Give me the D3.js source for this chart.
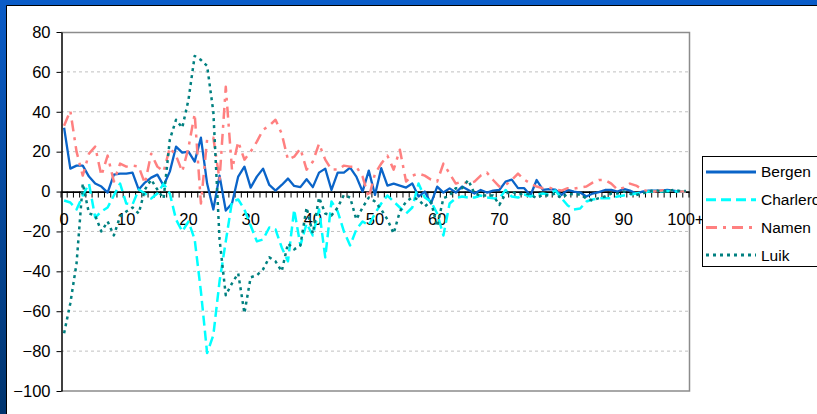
<!DOCTYPE html>
<html>
<head>
<meta charset="utf-8">
<title>Bergen Charleroi Namen Luik</title>
<script src="https://d3js.org/d3.v7.min.js"></script>
<style>
  body { margin: 0; overflow: hidden; background: #fff; }
  svg { display: block; font-family: "Liberation Sans", Arial, sans-serif; }
  .axis text { font-size: 16.5px; fill: #000; }
</style>
</head>
<body>
<div id="chart"></div>
<script>
// categories 0 .. 99 and "100+"
var categories = d3.range(100).map(String).concat(["100+"]);
var xTickLabels = ["0", "10", "20", "30", "40", "50", "60", "70", "80", "90", "100+"];
var yTicks = [-100, -80, -60, -40, -20, 0, 20, 40, 60, 80];

var bergen = [32, 11.5, 13, 13, 7.5, 4, 2.5, -0.5, 8.5, 9, 9, 9.5, 1, 4.5, 7, 8.5, 3, 10, 22.5, 19.5,
  20, 15, 27, 4, -9, 8, -9.5, -6, 7.5, 12.5, 2, 7.5, 11.5, 3.3, 0.5, 3.3, 6.5, 2.8, 2.2, 6.2,
  2.2, 9.5, 11.5, 0.8, 9.5, 9.5, 12, 7.5, 0, 10.5, -1.7, 11.7, 3, 4, 3, 2, 4, -2.5, 0, -6,
  2.5, -0.5, 1.6, -0.5, 2.5, 0.8, -1, 0.8, -0.5, 0.5, 0.8, 5, 6, 1.7, 1.7, -2, 5.8, 0.8, 1.2, 1,
  -1.7, 0.8, 0, -0.5, -2.5, -1, -0.3, 0.8, 0.8, 0, 1.3, 0.5, -1, 0, 0.5, 0.5, 0.5, 0.8, 0.5, 0, 0];

var charleroi = [-4.5, -5.5, -9, -2, 4, -13, -10, -8, -2, 4, -6, -6.5, 1, -1, -3.5, -1, 4, -1, -14, -20,
  -15, -24, -50, -81, -72, -45, -25, -5, -4, -9, -17, -25, -24, -18, -19, -28, -35, -9, -27, -16,
  -22, -9, -33, -5, -10, -20, -27, -19, -15, -17, -11, -6, -2, -5, -8, -11, -8, 4, -3, -5,
  -11, -22, -6, -3.3, -2.5, -3, -3, -2, -3, -3.3, -3.5, 0.8, -2.5, -3, -1.5, -2.5, -1.5, -1, -1.5, 0.5,
  -3.3, -7, -9, -8.5, -5, -4, -3.3, -3.3, -3.3, -2.5, -2, -1.5, -1, -0.5, 0, 0, 0, 0.3, 0, 0, 0];

var namen = [33, 40.5, 20, 8, 19, 22.5, 8, 18, 5, 14, 12.5, 13, 12.5, 4, 19, 12.5, 10, 22, 18, 10,
  22, 39, -6, 26, 27, 6, 52.5, 11, 25, 16, 20, 25, 31, 33, 36, 29, 16, 17.5, 21.5, 11,
  15, 24, 16, 11, 11, 13, 12.5, 12.5, 7.5, -3, 9, 14, 18, 11, 21, 5, 8, 9, 8, 6,
  5, 14, 9, 4, 5, 4, 5, 8, 9.5, 5.8, 2.5, 3.3, 5.8, 9, 6, 4, 2.5, 1.7, 2, 1,
  0.5, 1.7, 1.5, 2, 2.5, 4.5, 5.8, 5.8, 4, 1, 2, 4, 3, 1, 0, 0, 0.5, 0.8, 0.5, 0, 0];

var luik = [-71, -56, -36, 4, -11, -12, -20, -15, -22, -12.5, -10, -8, -11, 1, 6, 1, -3.5, 26, 36, 32,
  46, 68, 66, 63, 40, -24, -52, -46, -41, -61, -43, -42, -39, -33, -35, -40, -26, -29, -27, -8,
  -21, -3, -11, -12, -8, -1.7, -3, -14, -8, -3, -5, -9, -14, -21, -10, -5, -3, -4, -7.5, -5,
  -17.5, -3.3, -2, 1.7, 1.7, 5.8, -1, -2, -2, -2, -6.7, -1, 0, -1.5, -1, -1.5, -3.3, -1.5, -2, -1,
  -3.3, -1, -1.5, -1.5, -3.5, -4.5, -3.3, -2.5, -1, -1, 0, -1, -1.7, -1, 0, 0.8, 0, 0.3, 0.8, 0.3, 0.3];

var seriesNames = ["Bergen", "Charleroi", "Namen", "Luik"];
var seriesData = [bergen, charleroi, namen, luik];
var seriesColors = ["#0a64c8", "#00ffff", "#ff8080", "#008080"];
var seriesDash = [null, "10,5", "11,6,3,6", "3,4"];
var seriesWidth = [2.3, 2.5, 2.5, 2.5];

var W = 817, H = 414;

var svg = d3.select("#chart").append("svg")
  .attr("width", W)
  .attr("height", H);

// blue slide frame
var defs = svg.append("defs");
var grad = defs.append("linearGradient").attr("id", "frameGrad")
  .attr("x1", 0).attr("y1", 0).attr("x2", 0).attr("y2", 1);
grad.append("stop").attr("offset", "0%").attr("stop-color", "#0a5cc8");
grad.append("stop").attr("offset", "100%").attr("stop-color", "#00346e");

svg.append("rect").attr("width", W).attr("height", H).attr("fill", "url(#frameGrad)");
svg.append("rect").attr("x", 0).attr("y", 0).attr("width", W).attr("height", 5).attr("fill", "#0a5cc8");
svg.append("rect").attr("x", 7).attr("y", 6).attr("width", W - 7).attr("height", H - 6).attr("fill", "#fff");
svg.append("path").attr("d", "M6.5," + H + "V5.5H" + W).attr("fill", "none").attr("stroke", "#000");

// plot area
var plotLeft = 61, plotRight = 689, plotTop = 32, plotBottom = 391;

var x = d3.scaleBand()
  .domain(categories)
  .range([plotLeft, plotRight]);

var y = d3.scaleLinear()
  .domain([-100, 80])
  .range([plotBottom, plotTop]);

// gridlines
svg.append("g")
  .selectAll("line")
  .data(yTicks.filter(function (d) { return d !== 0 && d !== -100 && d !== 80; }))
  .enter().append("line")
  .attr("x1", plotLeft).attr("x2", plotRight)
  .attr("y1", function (d) { return y(d); })
  .attr("y2", function (d) { return y(d); })
  .attr("stroke", "#c0c0c0")
  .attr("stroke-width", 1)
  .attr("stroke-dasharray", "3,3");

// plot border (top, right, bottom)
svg.append("path")
  .attr("d", "M" + plotLeft + "," + (plotTop + 0.5) + "H" + (plotRight + 0.5) + "V" + plotBottom + "H" + plotLeft)
  .attr("fill", "none")
  .attr("stroke", "#8c8c8c")
  .attr("stroke-width", 1.5);

// y axis
var yAxis = svg.append("g")
  .attr("class", "axis")
  .attr("transform", "translate(" + (plotLeft + 0.5) + ",0)")
  .call(d3.axisLeft(y).tickValues(yTicks).tickSize(5).tickSizeOuter(0).tickPadding(6));
yAxis.select(".domain").attr("stroke", "#000").attr("stroke-width", 1.5);
yAxis.selectAll(".tick line").attr("stroke", "#000");
yAxis.selectAll("text").attr("font-family", "Liberation Sans, Arial, sans-serif");

// x axis crossing at 0
var xAxis = svg.append("g")
  .attr("class", "axis")
  .attr("transform", "translate(0," + y(0) + ")")
  .call(d3.axisBottom(x).tickValues(xTickLabels).tickSize(0).tickSizeOuter(0).tickPadding(21.5));
xAxis.select(".domain").attr("stroke", "#000").attr("stroke-width", 1.8);
xAxis.selectAll("text").attr("font-family", "Liberation Sans, Arial, sans-serif");

// category boundary tick marks
xAxis.append("g")
  .selectAll("line")
  .data(categories.concat([null]))
  .enter().append("line")
  .attr("x1", function (d) { return d === null ? plotRight : x(d); })
  .attr("x2", function (d) { return d === null ? plotRight : x(d); })
  .attr("y1", 0).attr("y2", 6)
  .attr("stroke", "#000")
  .attr("stroke-width", 1);

// series lines
var line = d3.line()
  .x(function (d, i) { return x(categories[i]) + x.bandwidth() / 2; })
  .y(function (d) { return y(d); });

seriesData.forEach(function (vals, k) {
  svg.append("path")
    .datum(vals)
    .attr("d", line)
    .attr("fill", "none")
    .attr("stroke", seriesColors[k])
    .attr("stroke-width", seriesWidth[k])
    .attr("stroke-linejoin", "round")
    .attr("stroke-dasharray", seriesDash[k]);
});

// legend
var legend = svg.append("g").attr("transform", "translate(702,156)");
legend.append("rect")
  .attr("x", 0.5).attr("y", 0.5)
  .attr("width", 140).attr("height", 110)
  .attr("fill", "#fff")
  .attr("stroke", "#000");

var items = legend.selectAll("g.item")
  .data(seriesNames)
  .enter().append("g")
  .attr("class", "item")
  .attr("transform", function (d, i) { return "translate(0," + (16 + i * 27.7) + ")"; });

items.append("line")
  .attr("x1", 4).attr("x2", 54)
  .attr("y1", 0).attr("y2", 0)
  .attr("stroke", function (d, i) { return seriesColors[i]; })
  .attr("stroke-width", function (d, i) { return seriesWidth[i] + 0.5; })
  .attr("stroke-dasharray", function (d, i) { return seriesDash[i]; });

items.append("text")
  .attr("x", 59)
  .attr("y", 0)
  .attr("dy", "0.35em")
  .style("font-size", "15.5px")
  .text(function (d) { return d; });
</script>
</body>
</html>
